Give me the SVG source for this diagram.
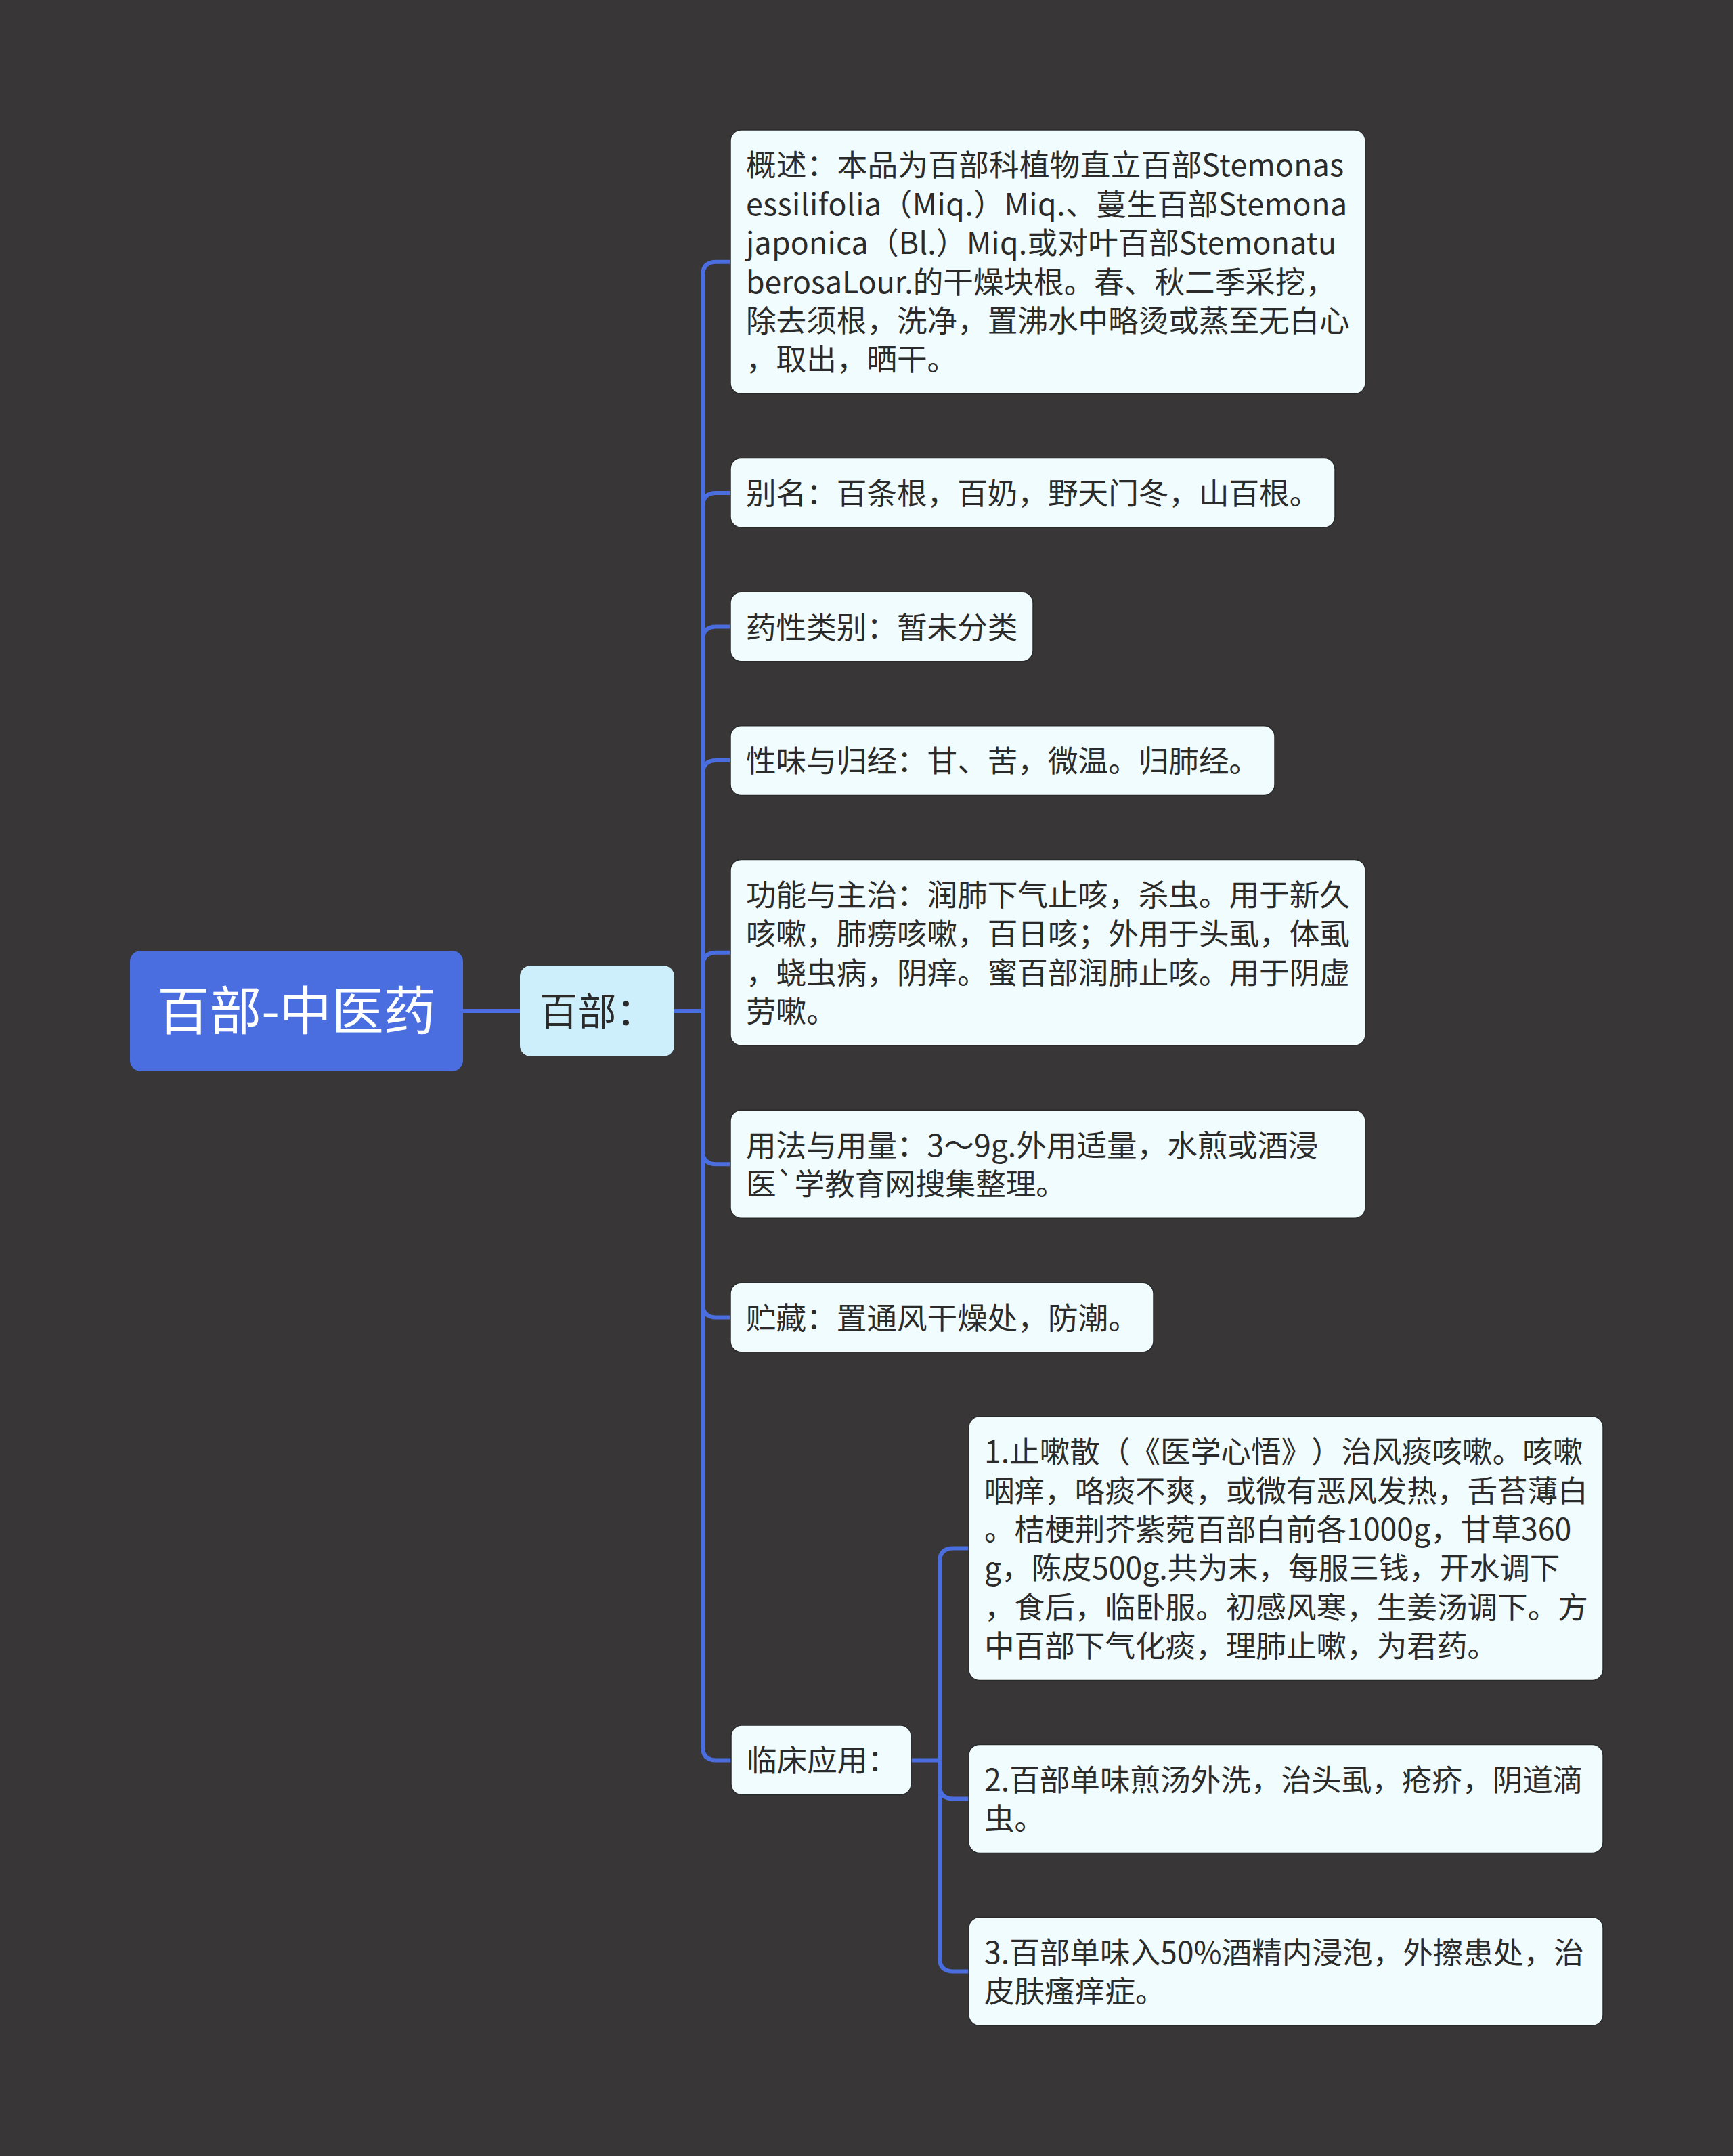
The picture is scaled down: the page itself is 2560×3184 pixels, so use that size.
<svg xmlns="http://www.w3.org/2000/svg" width="2560" height="3184" viewBox="0 0 2560 3184">
<style>
.bg{fill:#383637}
.box{fill:#f0fcfd;stroke:#2a2a2a;stroke-width:1.5}
text{text-spacing-trim:space-all}
.t{font-family:"Noto Sans CJK SC","Noto Sans",sans-serif;font-size:44.6px;fill:#2b2b2b}
.c{fill:none;stroke:#4a6ee0;stroke-width:6}
</style>
<rect class="bg" x="0" y="0" width="2560" height="3184"/>
<g id="connectors">
<path class="c" d="M684 1493 H768"/>
<path class="c" d="M996 1493 H1038"/>
<path class="c" d="M1038 1493 V406.8 Q1038 386.8 1058 386.8 H1079"/>
<path class="c" d="M1038 1493 V747.9 Q1038 727.9 1058 727.9 H1079"/>
<path class="c" d="M1038 1493 V945.5 Q1038 925.5 1058 925.5 H1079"/>
<path class="c" d="M1038 1493 V1143.1 Q1038 1123.1 1058 1123.1 H1079"/>
<path class="c" d="M1038 1493 V1426.8 Q1038 1406.8 1058 1406.8 H1079"/>
<path class="c" d="M1038 1493 V1699.2 Q1038 1719.2 1058 1719.2 H1079"/>
<path class="c" d="M1038 1493 V1925.5 Q1038 1945.5 1058 1945.5 H1079"/>
<path class="c" d="M1038 1493 V2579.4 Q1038 2599.4 1058 2599.4 H1080"/>
<path class="c" d="M1346 2599.4 H1388"/>
<path class="c" d="M1388 2599.4 V2306.6 Q1388 2286.6 1408 2286.6 H1431"/>
<path class="c" d="M1388 2599.4 V2636.4 Q1388 2656.4 1408 2656.4 H1431"/>
<path class="c" d="M1388 2599.4 V2891.4 Q1388 2911.4 1408 2911.4 H1431"/>
</g>
<g id="root">
<rect x="192" y="1404" width="492" height="178" rx="16" fill="#4a6ee0"/>
<text x="438" y="1521" text-anchor="middle" font-family="Noto Sans CJK SC, Noto Sans, sans-serif" font-size="77" fill="#ffffff">百部-中医药</text>
</g>
<g id="n-baibu">
<rect x="768" y="1426" width="228" height="134" rx="16" fill="#cdeffc"/>
<text x="882" y="1514" text-anchor="middle" font-family="Noto Sans CJK SC, Noto Sans, sans-serif" font-size="57" fill="#2b2b2b">百部：</text>
</g>
<g id="n-gaishu">
<rect class="box" x="1079" y="192" width="938" height="389.6" rx="16"/>
<text class="t" x="1102" y="260.3"><tspan x="1102" textLength="883" lengthAdjust="spacing">概述：本品为百部科植物直立百部Stemonas</tspan><tspan x="1102" dy="57.4" textLength="888" lengthAdjust="spacing">essilifolia（Miq.）Miq.、蔓生百部Stemona</tspan><tspan x="1102" dy="57.4" textLength="872" lengthAdjust="spacing">japonica（Bl.）Miq.或对叶百部Stemonatu</tspan><tspan x="1102" dy="57.4">berosaLour.的干燥块根。春、秋二季采挖，</tspan><tspan x="1102" dy="57.4">除去须根，洗净，置沸水中略烫或蒸至无白心</tspan><tspan x="1102" dy="57.4">，取出，晒干。</tspan></text>
</g>
<g id="n-bieming">
<rect class="box" x="1079" y="676.6" width="893" height="102.6" rx="16"/>
<text class="t" x="1102" y="744.9">别名：百条根，百奶，野天门冬，山百根。</text>
</g>
<g id="n-yaoxing">
<rect class="box" x="1079" y="874.2" width="447" height="102.6" rx="16"/>
<text class="t" x="1102" y="942.5">药性类别：暂未分类</text>
</g>
<g id="n-xingwei">
<rect class="box" x="1079" y="1071.8" width="804" height="102.6" rx="16"/>
<text class="t" x="1102" y="1140.1">性味与归经：甘、苦，微温。归肺经。</text>
</g>
<g id="n-gongneng">
<rect class="box" x="1079" y="1269.4" width="938" height="274.8" rx="16"/>
<text class="t" x="1102" y="1337.7"><tspan x="1102">功能与主治：润肺下气止咳，杀虫。用于新久</tspan><tspan x="1102" dy="57.4">咳嗽，肺痨咳嗽，百日咳；外用于头虱，体虱</tspan><tspan x="1102" dy="57.4">，蛲虫病，阴痒。蜜百部润肺止咳。用于阴虚</tspan><tspan x="1102" dy="57.4">劳嗽。</tspan></text>
</g>
<g id="n-yongfa">
<rect class="box" x="1079" y="1639.2" width="938" height="160" rx="16"/>
<text class="t" x="1102" y="1707.5"><tspan x="1102">用法与用量：3～9g.外用适量，水煎或酒浸</tspan><tspan x="1102" dy="57.4">医`学教育网搜集整理。</tspan></text>
</g>
<g id="n-zhucang">
<rect class="box" x="1079" y="1894.2" width="625" height="102.6" rx="16"/>
<text class="t" x="1102" y="1962.5">贮藏：置通风干燥处，防潮。</text>
</g>
<g id="n-linchuang">
<rect class="box" x="1080" y="2548.1" width="266" height="102.6" rx="16"/>
<text class="t" x="1103" y="2616.4">临床应用：</text>
</g>
<g id="n-app1">
<rect class="box" x="1431" y="2091.8" width="937" height="389.6" rx="16"/>
<text class="t" x="1454" y="2160.1"><tspan x="1454">1.止嗽散（《医学心悟》）治风痰咳嗽。咳嗽</tspan><tspan x="1454" dy="57.4">咽痒，咯痰不爽，或微有恶风发热，舌苔薄白</tspan><tspan x="1454" dy="57.4">。桔梗荆芥紫菀百部白前各1000g，甘草360</tspan><tspan x="1454" dy="57.4">g，陈皮500g.共为末，每服三钱，开水调下</tspan><tspan x="1454" dy="57.4">，食后，临卧服。初感风寒，生姜汤调下。方</tspan><tspan x="1454" dy="57.4">中百部下气化痰，理肺止嗽，为君药。</tspan></text>
</g>
<g id="n-app2">
<rect class="box" x="1431" y="2576.4" width="937" height="160" rx="16"/>
<text class="t" x="1454" y="2644.7"><tspan x="1454">2.百部单味煎汤外洗，治头虱，疮疥，阴道滴</tspan><tspan x="1454" dy="57.4">虫。</tspan></text>
</g>
<g id="n-app3">
<rect class="box" x="1431" y="2831.4" width="937" height="160" rx="16"/>
<text class="t" x="1454" y="2899.7"><tspan x="1454">3.百部单味入50%酒精内浸泡，外擦患处，治</tspan><tspan x="1454" dy="57.4">皮肤瘙痒症。</tspan></text>
</g>
</svg>
